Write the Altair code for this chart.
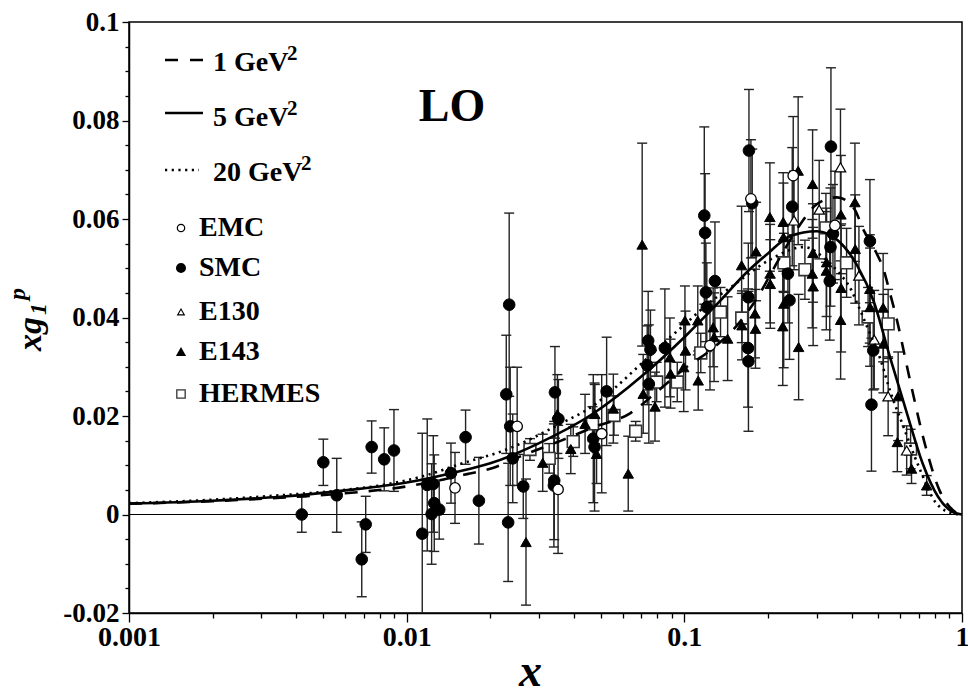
import altair as alt
import pandas as pd

# ---------------- data ----------------
# LO curves x*g1p at Q^2 = 1, 5, 20 GeV^2
q1_x = [0.001, 0.002, 0.0035, 0.006, 0.01, 0.0165, 0.02, 0.027, 0.036, 0.047, 0.064, 0.08, 0.1, 0.125, 0.15,
        0.182, 0.22, 0.262, 0.3, 0.355, 0.41, 0.44, 0.49, 0.52, 0.55, 0.58, 0.65, 0.74, 0.83, 0.93, 1.0]
q1_y = [0.0022, 0.0027, 0.0034, 0.0043, 0.0057, 0.0082, 0.0093, 0.0123, 0.015, 0.0177, 0.0206, 0.025, 0.0296,
        0.0335, 0.0375, 0.0438, 0.052, 0.059, 0.063, 0.0644, 0.062, 0.058, 0.0533, 0.050, 0.045, 0.040, 0.0272,
        0.0137, 0.0049, 0.0008, 0.0]

q5_x = [0.001, 0.002, 0.0035, 0.006, 0.01, 0.015, 0.02, 0.03, 0.047, 0.07, 0.1, 0.13, 0.17, 0.2, 0.24, 0.3,
        0.36, 0.42, 0.48, 0.55, 0.63, 0.72, 0.82, 0.92, 1.0]
q5_y = [0.0022, 0.0028, 0.0036, 0.0049, 0.0065, 0.0086, 0.0104, 0.0145, 0.0205, 0.028, 0.036, 0.0425, 0.0495,
        0.053, 0.0565, 0.0575, 0.0555, 0.0505, 0.0434, 0.032, 0.021, 0.0105, 0.0036, 0.0006, 0.0]

q20_x = [0.001, 0.002, 0.0035, 0.006, 0.008, 0.0115, 0.0155, 0.0234, 0.0357, 0.047, 0.057, 0.069, 0.086, 0.1,
         0.12, 0.15, 0.2, 0.27, 0.32, 0.355, 0.4, 0.42, 0.46, 0.51, 0.55, 0.61, 0.7, 0.81, 0.93, 1.0]
q20_y = [0.0023, 0.003, 0.0039, 0.005, 0.0059, 0.0078, 0.0102, 0.0134, 0.0184, 0.0221, 0.026, 0.0303, 0.0353,
         0.0385, 0.0425, 0.0465, 0.0515, 0.0543, 0.052, 0.0495, 0.0455, 0.0428, 0.0375, 0.0313, 0.0252, 0.0184,
         0.0096, 0.0022, 0.0002, 0.0]

# experimental points
smc_x = [0.00419, 0.00501, 0.0056, 0.00689, 0.00712, 0.00748, 0.0083, 0.0090, 0.01138, 0.01186, 0.01247, 0.0123,
         0.01257, 0.0131, 0.01444, 0.0163, 0.0182, 0.0234, 0.02284, 0.0236, 0.0232, 0.0241, 0.0263, 0.0342, 0.0352,
         0.0340, 0.0339, 0.047, 0.0475, 0.0525, 0.0741, 0.0755, 0.0735, 0.0745, 0.0851, 0.1196, 0.1205, 0.118,
         0.1188, 0.1289, 0.1709, 0.1756, 0.170, 0.1695, 0.1702, 0.2447, 0.2361, 0.2392, 0.3373, 0.343, 0.336,
         0.334, 0.466, 0.479, 0.472]
smc_y = [0.0, 0.0106, 0.0039, -0.0091, -0.002, 0.0137, 0.0112, 0.013, -0.0039, 0.006, 0.0062, 0.0001, 0.0023,
         0.001, 0.0084, 0.0157, 0.0028, 0.0426, 0.0244, 0.0179, -0.0016, 0.0114, 0.0057, 0.0248, 0.0194, 0.0069,
         0.0059, 0.0154, 0.0137, 0.025, 0.0353, 0.0335, 0.0303, 0.0265, 0.0338, 0.0451, 0.0421, 0.0607, 0.0572,
         0.0474, 0.0739, 0.0632, 0.0441, 0.0338, 0.0311, 0.0625, 0.0489, 0.0435, 0.0747, 0.057, 0.0543, 0.0474,
         0.0555, 0.0333, 0.0223]
smc_e = [0.0036, 0.0047, 0.0075, 0.0076, 0.0057, 0.0053, 0.0064, 0.0083, 0.0204, 0.0134, 0.0098, 0.0102, 0.0098,
         0.006, 0.0061, 0.0055, 0.0088, 0.0186, 0.012, 0.012, 0.012, 0.009, 0.0065, 0.0093, 0.008, 0.012, 0.0125,
         0.013, 0.013, 0.011, 0.010, 0.008, 0.008, 0.012, 0.012, 0.010, 0.009, 0.018, 0.012, 0.012, 0.0124, 0.011,
         0.011, 0.012, 0.0142, 0.012, 0.010, 0.012, 0.016, 0.010, 0.012, 0.012, 0.0125, 0.008, 0.0135]

emc_x = [0.01493, 0.025, 0.0351, 0.0504, 0.1237, 0.1737, 0.2467, 0.3486]
emc_y = [0.0054, 0.0179, 0.0051, 0.0164, 0.0343, 0.0641, 0.0688, 0.0587]
emc_e = [0.0072, 0.012, 0.013, 0.012, 0.009, 0.012, 0.012, 0.011]

e130_x = [0.2484, 0.306, 0.365, 0.4254, 0.483, 0.542, 0.632]
e130_y = [0.0597, 0.0619, 0.0705, 0.0485, 0.0355, 0.024, 0.013]
e130_e = [0.010, 0.010, 0.0118, 0.010, 0.010, 0.008, 0.005]

e143_x = [0.0269, 0.0309, 0.0349, 0.039, 0.0439, 0.0476, 0.0483, 0.0555, 0.0628, 0.0705, 0.0711, 0.0784, 0.0887,
          0.0892, 0.1005, 0.101, 0.0995, 0.1122, 0.1118, 0.127, 0.128, 0.1432, 0.1608, 0.1613, 0.1796, 0.1804,
          0.1813, 0.2033, 0.2036, 0.204, 0.227, 0.2275, 0.228, 0.2262, 0.257, 0.258, 0.2897, 0.2905, 0.289, 0.291,
          0.3254, 0.3245, 0.3664, 0.367, 0.3655, 0.4115, 0.4125, 0.4655, 0.4665, 0.52, 0.521, 0.589, 0.585, 0.658,
          0.746]
e143_y = [-0.0056, 0.0105, 0.0204, 0.0133, 0.0184, 0.0204, 0.0123, 0.0215, 0.0083, 0.0548, 0.0245, 0.0219, 0.0319,
          0.0286, 0.0394, 0.0333, 0.0299, 0.0272, 0.0394, 0.038, 0.036, 0.0357, 0.0506, 0.0384, 0.0408, 0.0377,
          0.0534, 0.0604, 0.0489, 0.0468, 0.0594, 0.0563, 0.0428, 0.0382, 0.0698, 0.034, 0.0671, 0.0531, 0.0489,
          0.0463, 0.0512, 0.0495, 0.0609, 0.046, 0.0395, 0.0634, 0.0539, 0.0458, 0.0421, 0.042, 0.0347, 0.024,
          0.0147, 0.0093, 0.0059]
e143_e = [0.0128, 0.0058, 0.008, 0.005, 0.006, 0.006, 0.006, 0.007, 0.0076, 0.0206, 0.008, 0.007, 0.008, 0.007,
          0.007, 0.008, 0.009, 0.006, 0.007, 0.008, 0.009, 0.0085, 0.012, 0.007, 0.009, 0.008, 0.010, 0.011, 0.010,
          0.009, 0.010, 0.011, 0.013, 0.012, 0.015, 0.0107, 0.011, 0.010, 0.011, 0.012, 0.011, 0.012, 0.012, 0.013,
          0.012, 0.012, 0.011, 0.011, 0.012, 0.011, 0.010, 0.009, 0.006, 0.003, 0.002]

her_x = [0.0278, 0.0326, 0.0398, 0.0467, 0.0558, 0.0668, 0.0795, 0.0943, 0.1146, 0.135, 0.161, 0.2284, 0.2718,
         0.3235, 0.384, 0.459, 0.542, 0.653]
her_y = [0.0132, 0.0114, 0.0148, 0.0184, 0.0201, 0.0169, 0.0269, 0.0269, 0.0328, 0.0411, 0.0399, 0.0511, 0.0497,
         0.0582, 0.0511, 0.0401, 0.0387, 0.0133]
her_e = [0.0022, 0.003, 0.003, 0.0035, 0.004, 0.002, 0.004, 0.004, 0.004, 0.005, 0.005, 0.006, 0.006, 0.007,
         0.007, 0.006, 0.007, 0.004]

# ---------------- tables ----------------
def pts(name, xs_, ys_, es_):
    return pd.DataFrame({"x": xs_, "y": ys_,
                         "lo": [a - b for a, b in zip(ys_, es_)],
                         "hi": [a + b for a, b in zip(ys_, es_)],
                         "set": name})

sets = {
    "SMC": pts("SMC", smc_x, smc_y, smc_e),
    "EMC": pts("EMC", emc_x, emc_y, emc_e),
    "E130": pts("E130", e130_x, e130_y, e130_e),
    "E143": pts("E143", e143_x, e143_y, e143_e),
    "HERMES": pts("HERMES", her_x, her_y, her_e),
}
allpts = pd.concat(list(sets.values()), ignore_index=True)
caps = pd.concat([allpts[["x", "lo"]].rename(columns={"lo": "yc"}),
                  allpts[["x", "hi"]].rename(columns={"hi": "yc"})], ignore_index=True)

FONT = "Liberation Serif"
xs = alt.Scale(type="log", domain=[0.001, 1], nice=False)
ys = alt.Scale(domain=[-0.02, 0.1], nice=False, zero=False)

x_ticks = [round(d * m, 6) for d in (0.001, 0.01, 0.1) for m in range(1, 10)] + [1.0]
y_ticks = [round(i * 0.005, 3) for i in range(-4, 21)]
x_major = "abs(log(datum.value)/LN10 - round(log(datum.value)/LN10)) < 0.001"
y_major = "abs(datum.value/0.02 - round(datum.value/0.02)) < 0.001"

xaxis = alt.Axis(values=x_ticks, labelExpr=f"{x_major} ? format(datum.value, '~g') : ''",
                 tickSize={"condition": {"test": x_major, "value": 9}, "value": 5},
                 labelOverlap=False, labelFlush=False, labelPadding=1, labelFontSize=28,
                 title="x", titleFont=FONT, titleFontSize=46, titleFontStyle="italic",
                 titleFontWeight="bold", titleX=401, titleY=72, titleBaseline="alphabetic",
                 titleAlign="center", grid=False)
yaxis = alt.Axis(values=y_ticks,
                 labelExpr=f"{y_major} ? replace(format(datum.value, '~g'), '\u2212', '-') : ''",
                 tickSize={"condition": {"test": y_major, "value": 7}, "value": 4},
                 labelOverlap=False, labelFlush=False, labelPadding=3, labelFontSize=27,
                 title=None, grid=False)

def X(f="x"):
    return alt.X(f, type="quantitative", scale=xs, axis=xaxis)

def Y(f="y"):
    return alt.Y(f, type="quantitative", scale=ys, axis=yaxis)

layers = []
layers.append(alt.Chart(pd.DataFrame({"v": [0.0]})).mark_rule(color="black", strokeWidth=1)
              .encode(y=Y("v")))
layers.append(alt.Chart(allpts).mark_rule(color="#222", strokeWidth=1.4, clip=True)
              .encode(x=X(), y=Y("lo"), y2="hi"))
layers.append(alt.Chart(caps).mark_point(shape="M-1,0L1,0", size=100, filled=False, color="#222",
                                         strokeWidth=1.4, opacity=1, clip=True)
              .encode(x=X(), y=Y("yc")))

styles = {
    "HERMES": dict(shape="square", size=140, fill="white", stroke="#333", strokeWidth=1.6),
    "E143": dict(shape="triangle-up", size=110, fill="black", stroke="black", strokeWidth=1),
    "SMC": dict(shape="circle", size=135, fill="black", stroke="black", strokeWidth=1),
    "EMC": dict(shape="circle", size=110, fill="white", stroke="black", strokeWidth=1.3),
    "E130": dict(shape="triangle-up", size=110, fill="white", stroke="black", strokeWidth=1.2),
}
for name in ["HERMES", "E143", "SMC", "EMC", "E130"]:
    st = styles[name]
    layers.append(alt.Chart(sets[name]).mark_point(filled=True, opacity=1, clip=True, **st)
                  .encode(x=X(), y=Y()))

curve_styles = [
    (q1_x, q1_y, [13, 11]),
    (q5_x, q5_y, None),
    (q20_x, q20_y, [2.2, 4.5]),
]
for cx, cy, dash in curve_styles:
    kw = dict(color="black", strokeWidth=2.6, interpolate="monotone", clip=True)
    if dash:
        kw["strokeDash"] = dash
    layers.append(alt.Chart(pd.DataFrame({"x": cx, "y": cy})).mark_line(**kw)
                  .encode(x=X(), y=Y()))

# ---------------- legend (pixel placed, inside plot) ----------------
one = pd.DataFrame({"k": [0]})
def rule(x1, x2, yy, dash=None):
    kw = dict(color="black", strokeWidth=2.6)
    if dash:
        kw["strokeDash"] = dash
    return alt.Chart(one).mark_rule(**kw).encode(x=alt.value(x1), x2=alt.value(x2), y=alt.value(yy))

def txt(t, x, y, size=28, style="normal", align="left"):
    return alt.Chart(pd.DataFrame({"t": [t]})).mark_text(
        x=x, y=y, font=FONT, fontSize=size, fontWeight="bold", fontStyle=style, align=align,
        baseline="middle", color="black").encode(text="t:N")

def sym(x, y, **st):
    return alt.Chart(one).mark_point(filled=True, opacity=1, **st).encode(
        x=alt.value(x), y=alt.value(y))

layers += [
    rule(36, 74, 38, [13, 12]), txt("1 GeV", 84, 41), txt("2", 158, 32, size=21),
    rule(36, 74, 91), txt("5 GeV", 84, 96), txt("2", 158, 87, size=21),
    rule(36, 70, 148, [2.2, 4.5]), txt("20 GeV", 84, 151), txt("2", 172, 142, size=21),
    sym(52, 206, shape="circle", size=55, fill="white", stroke="black", strokeWidth=1.2), txt("EMC", 70, 206),
    sym(52, 246, shape="circle", size=65, fill="black", stroke="black"), txt("SMC", 70, 246),
    sym(52, 290, shape="triangle-up", size=45, fill="white", stroke="black", strokeWidth=1.1), txt("E130", 70, 290),
    sym(52, 330, shape="triangle-up", size=45, fill="black", stroke="black"), txt("E143", 70, 330),
    sym(52, 372, shape="square", size=70, fill="white", stroke="#333", strokeWidth=1.3), txt("HERMES", 70, 372),
    txt("LO", 323, 85, size=46, align="center"),
]

# y-axis title  x g_1^p  (rotated)
def rtxt(t, x, y, size):
    return alt.Chart(pd.DataFrame({"t": [t]})).mark_text(
        x=x, y=y, angle=270, font=FONT, fontSize=size, fontWeight="bold", fontStyle="italic",
        align="center", baseline="middle", color="black").encode(text="t:N")

layers += [rtxt("xg", -98, 312, 34), rtxt("1", -90, 287, 24), rtxt("p", -111, 272, 24)]

chart = alt.layer(*layers).properties(
    width=833, height=591,
    autosize=alt.AutoSizeParams(type="none"),
    padding={"left": 129, "top": 22, "right": 6, "bottom": 83},
).configure_view(stroke="black", strokeWidth=1.5).configure_axis(
    domainColor="black", domainWidth=1.5, tickColor="black", tickWidth=1.3,
    labelFont=FONT, labelFontWeight="bold", labelColor="black", titleColor="black",
)

chart.save("out.html", embed_options={"renderer": "svg", "actions": False})
